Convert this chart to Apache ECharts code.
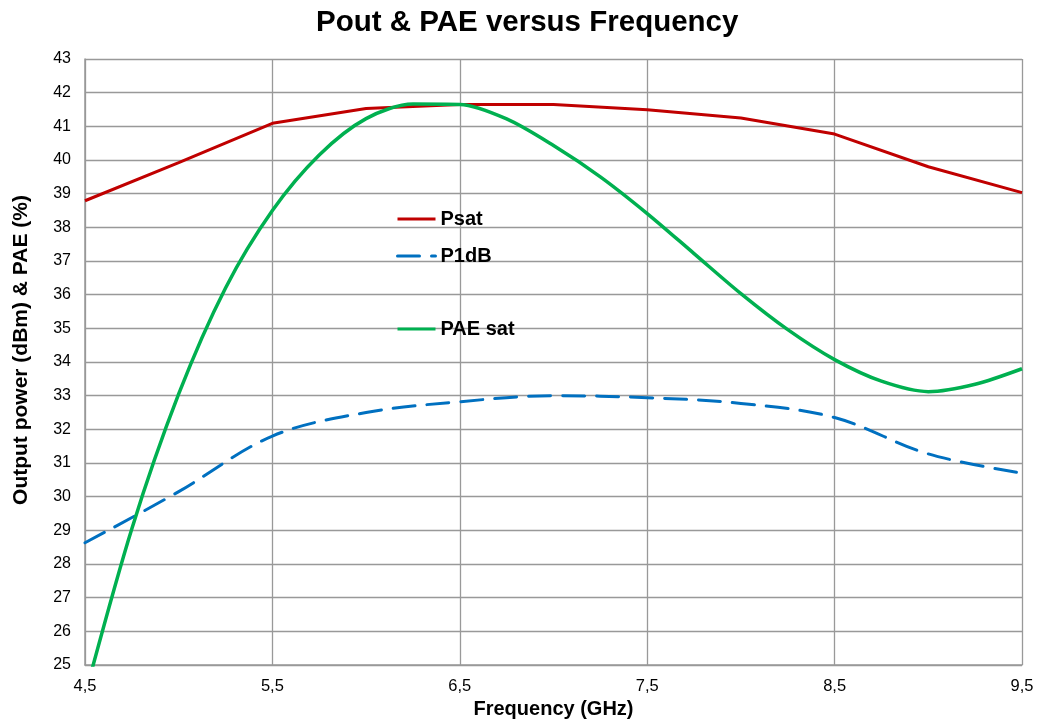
<!DOCTYPE html>
<html>
<head>
<meta charset="utf-8">
<script src="https://cdn.jsdelivr.net/npm/echarts@6/dist/echarts.min.js"></script>
<style>html,body{margin:0;padding:0;background:#fff}#c{width:1039px;height:722px}</style>
</head>
<body>
<div id="c"></div>
<script>
var freq = [4.5, 5.0, 5.5, 6.0, 6.5, 7.0, 7.5, 8.0, 8.5, 9.0, 9.5];
var psat = [38.79, 39.92, 41.09, 41.53, 41.65, 41.65, 41.49, 41.25, 40.77, 39.8, 39.03];
var p1db = [28.63, 30.15, 31.8, 32.5, 32.82, 33.0, 32.94, 32.77, 32.35, 31.27, 30.7];
var paeFreq = [4.5, 4.75, 5.0, 5.25, 5.5, 5.75, 6.0, 6.25, 6.5, 6.75, 7.0, 7.25, 7.5, 7.75, 8.0, 8.25, 8.5, 8.75, 9.0, 9.25, 9.5];
var pae     = [24.1, 29.05, 33.05, 36.2, 38.5, 40.15, 41.23, 41.66, 41.65, 41.22, 40.43, 39.5, 38.41, 37.22, 36.03, 34.96, 34.07, 33.43, 33.12, 33.34, 33.8];
var xTicks = ['4,5', '5,5', '6,5', '7,5', '8,5', '9,5'];

function pairs(xs, ys) { return xs.map(function (x, i) { return [x, ys[i]]; }); }

var FONT = 'Liberation Sans, Arial, sans-serif';
var chart = echarts.init(document.getElementById('c'));
function legendAt(name, top) {
  return {
    data: [name], left: 396, top: top, orient: 'vertical', padding: 0,
    itemWidth: 38, itemHeight: 12, itemGap: 0,
    itemStyle: { opacity: 0 },
    lineStyle: { width: 3 },
    textStyle: { fontFamily: FONT, fontSize: 20, fontWeight: 'bold', color: '#000' }
  };
}
chart.setOption({
  animation: false,
  backgroundColor: '#fff',
  title: {
    text: 'Pout & PAE versus Frequency', left: 311, top: 3,
    textStyle: { fontFamily: FONT, fontSize: 29.5, fontWeight: 'bold', color: '#000' }
  },
  legend: [legendAt('Psat', 209), legendAt('P1dB', 246), legendAt('PAE sat', 319)],
  grid: { left: 85, right: 17, top: 59, bottom: 57, containLabel: false, outerBoundsMode: 'none' },
  xAxis: {
    type: 'value', min: 4.5, max: 9.5, interval: 1,
    name: 'Frequency (GHz)', nameLocation: 'middle', nameGap: 34,
    nameTextStyle: { fontFamily: FONT, fontSize: 20, fontWeight: 'bold', color: '#000' },
    axisLine: { show: true, lineStyle: { color: '#999', width: 1.5 } },
    axisTick: { show: false },
    axisLabel: {
      fontFamily: FONT, fontSize: 16.5, color: '#000', margin: 13,
      formatter: function (v) {
        var i = Math.round(v - 4.5);
        return xTicks[i] !== undefined ? xTicks[i] : '';
      }
    },
    splitLine: { show: true, lineStyle: { color: '#999', width: 1.3 } }
  },
  yAxis: {
    type: 'value', min: 25, max: 43, interval: 1,
    name: 'Output power (dBm) & PAE (%)', nameLocation: 'middle', nameGap: 53,
    nameTextStyle: { fontFamily: FONT, fontSize: 21, fontWeight: 'bold', color: '#000', padding: [0, 0, 0, 24] },
    axisLine: { show: true, lineStyle: { color: '#999', width: 1.5 } },
    axisTick: { show: false },
    axisLabel: { fontFamily: FONT, fontSize: 16, color: '#000', margin: 14 },
    splitLine: { show: true, lineStyle: { color: '#999', width: 1.3 } }
  },
  series: [
    {
      name: 'Psat', type: 'line', data: pairs(freq, psat), symbol: 'none',
      smooth: false, lineStyle: { color: '#C00000', width: 3 }, itemStyle: { color: '#C00000' }, z: 3
    },
    {
      name: 'P1dB', type: 'line', data: pairs(freq, p1db), symbol: 'none',
      smooth: 0.35, lineStyle: { color: '#0070C0', width: 3, type: [22, 12], cap: 'round' }, itemStyle: { color: '#0070C0' }, z: 2
    },
    {
      name: 'PAE sat', type: 'line', data: pairs(paeFreq, pae), symbol: 'none',
      smooth: 0.3, lineStyle: { color: '#00B050', width: 3.5 }, itemStyle: { color: '#00B050' }, z: 4
    }
  ]
});
</script>
</body>
</html>
